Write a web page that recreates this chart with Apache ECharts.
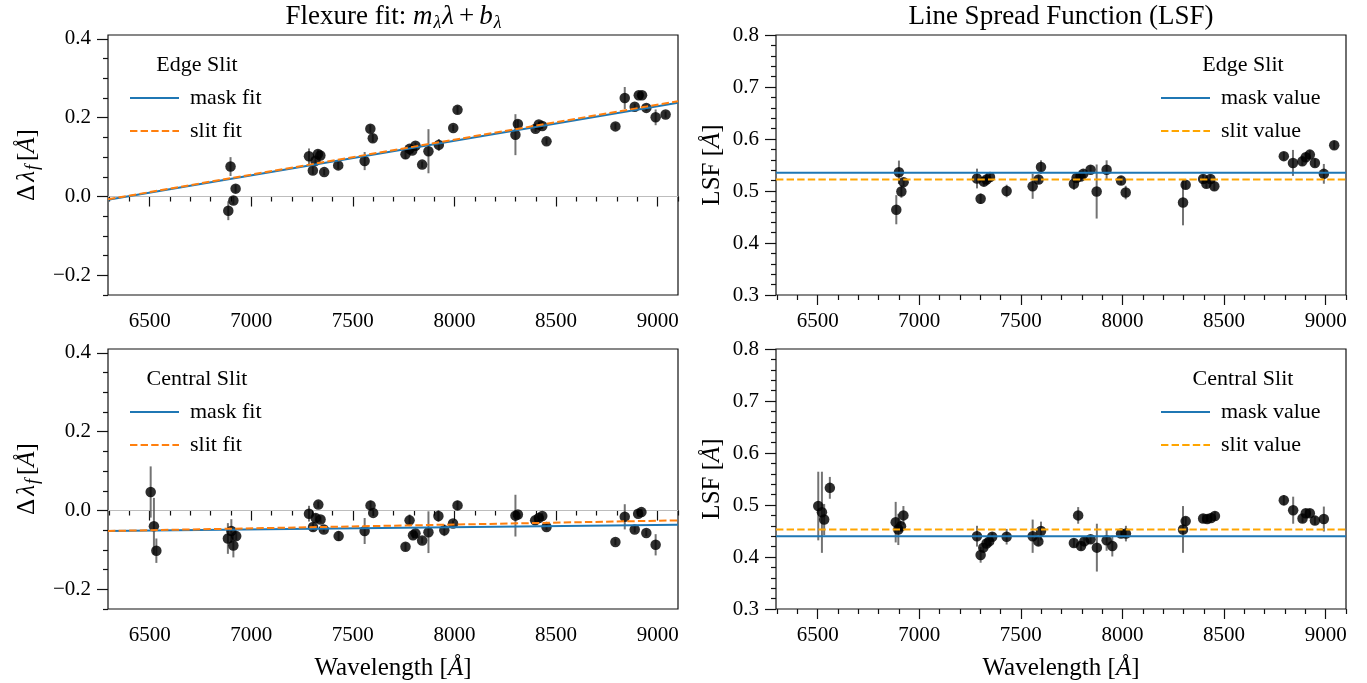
<!DOCTYPE html>
<html>
<head>
<meta charset="utf-8">
<script src="https://cdn.jsdelivr.net/npm/echarts@6/dist/echarts.min.js"></script>
<style>html,body{margin:0;padding:0;background:#fff}#c{width:1367px;height:683px}</style>
</head>
<body>
<div id="c"></div>
<script>
// ---------- axes / ticks ----------
const xRange = [6295, 9100];
const xMajorTicks = [6500, 7000, 7500, 8000, 8500, 9000];
const xMinorTicks = [6300, 6400, 6600, 6700, 6800, 6900, 7100, 7200, 7300, 7400, 7600, 7700, 7800, 7900, 8100, 8200, 8300, 8400, 8600, 8700, 8800, 8900, 9100];
const flexRange = [-0.25, 0.41];
const flexMajorTicks = [-0.2, 0, 0.2, 0.4];
const flexMinorTicks = [-0.25, -0.15, -0.1, -0.05, 0.05, 0.1, 0.15, 0.25, 0.3, 0.35];
const lsfRange = [0.3, 0.8];
const lsfMajorTicks = [0.3, 0.4, 0.5, 0.6, 0.7, 0.8];
const lsfMinorTicks = [0.32, 0.34, 0.36, 0.38, 0.42, 0.44, 0.46, 0.48, 0.52, 0.54, 0.56, 0.58, 0.62, 0.64, 0.66, 0.68, 0.72, 0.74, 0.76, 0.78];

// ---------- Edge slit: flexure ----------
const edgeFlexWave = [6887, 6898, 6912, 6923, 7284, 7303, 7316, 7328, 7340, 7359, 7428, 7558, 7586, 7598, 7759, 7779, 7792, 7808, 7841, 7872, 7923, 7994, 8015, 8300, 8312, 8399, 8415, 8432, 8453, 8792, 8838, 8887, 8907, 8923, 8944, 8990, 9039];
const edgeFlexVal  = [-0.036, 0.076, -0.010, 0.020, 0.102, 0.066, 0.091, 0.108, 0.104, 0.062, 0.079, 0.090, 0.172, 0.148, 0.107, 0.121, 0.117, 0.129, 0.081, 0.115, 0.131, 0.174, 0.220, 0.157, 0.184, 0.172, 0.183, 0.179, 0.140, 0.178, 0.250, 0.228, 0.257, 0.257, 0.225, 0.201, 0.208];
const edgeFlexErr  = [0.024, 0.024, 0.010, 0.010, 0.020, 0.010, 0.010, 0.010, 0.010, 0.008, 0.010, 0.023, 0.010, 0.010, 0.012, 0.008, 0.008, 0.008, 0.008, 0.056, 0.015, 0.008, 0.010, 0.052, 0.010, 0.008, 0.008, 0.008, 0.008, 0.008, 0.028, 0.008, 0.008, 0.008, 0.008, 0.020, 0.008];
const edgeFlexMaskFit = [-0.008, 0.238];
const edgeFlexSlitFit = [-0.007, 0.242];

// ---------- Edge slit: LSF ----------
const edgeLsfWave = [6887, 6900, 6912, 6923, 7284, 7302, 7318, 7331, 7348, 7430, 7558, 7587, 7599, 7761, 7774, 7794, 7807, 7843, 7873, 7922, 7993, 8016, 8298, 8311, 8397, 8413, 8433, 8452, 8794, 8839, 8885, 8902, 8922, 8947, 8991, 9042];
const edgeLsfVal  = [0.464, 0.536, 0.499, 0.517, 0.524, 0.485, 0.518, 0.522, 0.527, 0.500, 0.509, 0.522, 0.546, 0.514, 0.525, 0.528, 0.533, 0.541, 0.499, 0.541, 0.520, 0.497, 0.478, 0.512, 0.523, 0.514, 0.523, 0.509, 0.567, 0.554, 0.557, 0.565, 0.570, 0.554, 0.533, 0.588];
const edgeLsfErr  = [0.028, 0.0225, 0.012, 0.008, 0.019, 0.010, 0.008, 0.008, 0.008, 0.012, 0.024, 0.008, 0.013, 0.012, 0.008, 0.008, 0.008, 0.008, 0.052, 0.018, 0.008, 0.013, 0.044, 0.008, 0.008, 0.008, 0.008, 0.008, 0.008, 0.025, 0.008, 0.008, 0.008, 0.008, 0.019, 0.008];
const edgeLsfMask = [0.535, 0.535];
const edgeLsfSlit = [0.522, 0.522];

// ---------- Central slit: flexure ----------
const centFlexWave = [6505, 6521, 6533, 6885, 6902, 6912, 6926, 7284, 7304, 7317, 7330, 7341, 7357, 7430, 7558, 7587, 7600, 7759, 7779, 7796, 7808, 7841, 7872, 7921, 7950, 7993, 8015, 8300, 8312, 8397, 8415, 8432, 8453, 8792, 8838, 8887, 8904, 8920, 8944, 8990];
const centFlexVal  = [0.047, -0.040, -0.102, -0.071, -0.052, -0.089, -0.065, -0.008, -0.042, -0.019, 0.015, -0.023, -0.048, -0.065, -0.052, 0.013, -0.006, -0.092, -0.025, -0.063, -0.058, -0.076, -0.055, -0.014, -0.050, -0.033, 0.013, -0.013, -0.010, -0.025, -0.019, -0.014, -0.042, -0.080, -0.016, -0.048, -0.008, -0.004, -0.057, -0.087];
const centFlexErr  = [0.065, 0.072, 0.031, 0.039, 0.030, 0.030, 0.010, 0.020, 0.010, 0.010, 0.008, 0.008, 0.008, 0.012, 0.033, 0.012, 0.008, 0.010, 0.015, 0.008, 0.008, 0.008, 0.053, 0.015, 0.015, 0.008, 0.012, 0.053, 0.008, 0.008, 0.008, 0.008, 0.008, 0.008, 0.032, 0.008, 0.008, 0.008, 0.008, 0.027];
const centFlexMaskFit = [-0.052, -0.036];
const centFlexSlitFit = [-0.052, -0.025];

// ---------- Central slit: LSF ----------
const centLsfWave = [6503, 6521, 6532, 6560, 6884, 6897, 6910, 6922, 7284, 7302, 7315, 7331, 7344, 7359, 7430, 7558, 7586, 7599, 7761, 7782, 7796, 7812, 7843, 7874, 7922, 7950, 7993, 8017, 8298, 8311, 8397, 8417, 8436, 8455, 8794, 8840, 8886, 8902, 8922, 8947, 8991];
const centLsfVal  = [0.498, 0.486, 0.472, 0.533, 0.467, 0.453, 0.459, 0.480, 0.440, 0.404, 0.418, 0.426, 0.430, 0.439, 0.439, 0.440, 0.430, 0.450, 0.427, 0.480, 0.421, 0.430, 0.434, 0.418, 0.432, 0.421, 0.445, 0.445, 0.453, 0.469, 0.474, 0.473, 0.475, 0.479, 0.509, 0.490, 0.474, 0.484, 0.484, 0.470, 0.473];
const centLsfErr  = [0.066, 0.078, 0.030, 0.021, 0.039, 0.030, 0.010, 0.018, 0.020, 0.015, 0.008, 0.008, 0.008, 0.008, 0.015, 0.032, 0.008, 0.018, 0.008, 0.016, 0.008, 0.008, 0.008, 0.046, 0.020, 0.020, 0.008, 0.015, 0.045, 0.008, 0.008, 0.008, 0.008, 0.008, 0.010, 0.026, 0.008, 0.008, 0.008, 0.008, 0.024];
const centLsfMask = [0.440, 0.440];
const centLsfSlit = [0.453, 0.453];

const fitX = [6295, 9100];

// ---------- build ----------
const FONT = 'Liberation Serif';
const BLUE = '#1f77b4';

const panels = [
  {wave: edgeFlexWave, val: edgeFlexVal, err: edgeFlexErr, mask: edgeFlexMaskFit, slit: edgeFlexSlitFit, names: ['mask fit', 'slit fit'], slitColor: '#ff7f0e', zero: true, lsf: false},
  {wave: edgeLsfWave, val: edgeLsfVal, err: edgeLsfErr, mask: edgeLsfMask, slit: edgeLsfSlit, names: ['mask value', 'slit value'], slitColor: '#ffa500', zero: false, lsf: true},
  {wave: centFlexWave, val: centFlexVal, err: centFlexErr, mask: centFlexMaskFit, slit: centFlexSlitFit, names: ['mask fit', 'slit fit'], slitColor: '#ff7f0e', zero: true, lsf: false},
  {wave: centLsfWave, val: centLsfVal, err: centLsfErr, mask: centLsfMask, slit: centLsfSlit, names: ['mask value', 'slit value'], slitColor: '#ffa500', zero: false, lsf: true}
];

const gridPos = [
  {left: 108, top: 35}, {left: 776, top: 35}, {left: 108, top: 349}, {left: 776, top: 349}
];
const grids = gridPos.map(g => ({left: g.left, top: g.top, width: 570, height: 260, show: true, borderColor: '#111', borderWidth: 1.2, backgroundColor: 'transparent'}));

const tickStyle = {color: '#111', width: 1.2};
const labelStyle = {fontFamily: FONT, fontSize: 21, color: '#000'};
const richBase = (fs) => ({
  i: {fontFamily: FONT, fontSize: fs, fontStyle: 'italic', color: '#000', lineHeight: 30},
  n: {fontFamily: FONT, fontSize: fs, color: '#000', lineHeight: 30},
  g: {fontFamily: FONT, fontSize: fs, color: '#000', lineHeight: 30, padding: [0, 3, 0, 0]},
  s: {fontFamily: FONT, fontSize: Math.round(fs * 0.7), fontStyle: 'italic', color: '#000', lineHeight: 16, verticalAlign: 'bottom', padding: [0, 4, 0, 1]}
});

const xAxes = [], yAxes = [];
panels.forEach((p, k) => {
  const bottom = k >= 2;
  xAxes.push({
    type: 'value', gridIndex: k, min: xRange[0], max: xRange[1], position: 'bottom',
    axisLine: {show: false}, splitLine: {show: false},
    axisTick: {show: true, length: 10, customValues: xMajorTicks, lineStyle: tickStyle},
    axisLabel: Object.assign({customValues: xMajorTicks, margin: 16, formatter: v => String(Math.round(v))}, labelStyle),
    name: bottom ? '{n|Wavelength [}{i|Å}{n|]}' : '',
    nameLocation: 'middle', nameGap: 44,
    nameTextStyle: {fontFamily: FONT, fontSize: 25, color: '#000', rich: richBase(25)}
  });
  xAxes.push({
    type: 'value', gridIndex: k, min: xRange[0], max: xRange[1], position: 'bottom',
    axisLine: {show: false}, splitLine: {show: false}, axisLabel: {show: false},
    axisTick: {show: true, length: 5, customValues: xMinorTicks, lineStyle: tickStyle}
  });
  const yr = p.lsf ? lsfRange : flexRange;
  const ymaj = p.lsf ? lsfMajorTicks : flexMajorTicks;
  const ymin = p.lsf ? lsfMinorTicks : flexMinorTicks;
  yAxes.push({
    type: 'value', gridIndex: k, min: yr[0], max: yr[1], position: 'left',
    axisLine: {show: false}, splitLine: {show: false},
    axisTick: {show: true, length: 11, customValues: ymaj, lineStyle: tickStyle},
    axisLabel: Object.assign({customValues: ymaj, margin: 17, formatter: v => (v < 0 ? '\u2212' + Math.abs(v).toFixed(1) : v.toFixed(1))}, labelStyle),
    name: p.lsf ? '{n|LSF [}{i|Å}{n|]}' : '{g|Δ}{i|λ}{s|f}{n|[}{i|Å}{n|]}',
    nameLocation: 'middle', nameGap: p.lsf ? 49 : 66,
    nameTextStyle: {fontFamily: FONT, fontSize: 25, color: '#000', rich: richBase(25)}
  });
  yAxes.push({
    type: 'value', gridIndex: k, min: yr[0], max: yr[1], position: 'left',
    axisLine: {show: false}, splitLine: {show: false}, axisLabel: {show: false},
    axisTick: {show: true, length: 5, customValues: ymin, lineStyle: tickStyle}
  });
});

const series = [];
panels.forEach((p, k) => {
  const xi = 2 * k, yi = 2 * k;
  if (p.zero) {
    series.push({type: 'line', xAxisIndex: xi, yAxisIndex: yi, silent: true, symbol: 'none', z: 1,
      data: fitX.map(x => [x, 0]), lineStyle: {color: '#bdbdbd', width: 1.2}});
  }
  series.push({
    type: 'custom', xAxisIndex: xi, yAxisIndex: yi, z: 2, silent: true,
    data: p.wave.map((w, i) => [w, p.val[i], p.err[i]]),
    encode: {x: 0, y: 1},
    renderItem: (params, api) => {
      const x = api.value(0), y = api.value(1), e = api.value(2);
      const a = api.coord([x, y - e]), b = api.coord([x, y + e]);
      return {type: 'line', shape: {x1: a[0], y1: a[1], x2: b[0], y2: b[1]}, style: {stroke: 'rgba(80,80,80,0.8)', lineWidth: 2}};
    }
  });
  series.push({
    type: 'scatter', xAxisIndex: xi, yAxisIndex: yi, z: 3, silent: true,
    symbol: 'circle', symbolSize: 10.5,
    data: p.wave.map((w, i) => [w, p.val[i]]),
    itemStyle: {color: 'rgba(0,0,0,0.82)', opacity: 1}
  });
  series.push({
    name: p.names[0], type: 'line', xAxisIndex: xi, yAxisIndex: yi, z: 4, silent: true, symbol: 'none',
    data: fitX.map((x, i) => [x, p.mask[i]]),
    itemStyle: {color: BLUE}, lineStyle: {color: BLUE, width: 2}
  });
  series.push({
    name: p.names[1], type: 'line', xAxisIndex: xi, yAxisIndex: yi, z: 5, silent: true, symbol: 'none',
    data: fitX.map((x, i) => [x, p.slit[i]]),
    itemStyle: {color: p.slitColor}, lineStyle: {color: p.slitColor, width: 2, type: [7.4, 3.2]}
  });
});

const legendPos = [
  {left: 129, top: 87, names: ['mask fit', 'slit fit']},
  {left: 1160, top: 87, names: ['mask value', 'slit value']},
  {left: 129, top: 401, names: ['mask fit', 'slit fit']},
  {left: 1160, top: 401, names: ['mask value', 'slit value']}
];
const legends = legendPos.map(l => ({
  left: l.left, top: l.top, orient: 'vertical', padding: 0, itemWidth: 49, itemHeight: 14, itemGap: 11,
  selectedMode: false, data: l.names,
  itemStyle: {opacity: 0},
  textStyle: {fontFamily: FONT, fontSize: 22, color: '#000', padding: [0, 0, 0, 6]}
}));

const titleStyle = (fs) => ({fontFamily: FONT, fontSize: fs, fontWeight: 'normal', color: '#000', rich: {
  n: {fontFamily: FONT, fontSize: fs, color: '#000', lineHeight: 30},
  i: {fontFamily: FONT, fontSize: fs, fontStyle: 'italic', color: '#000', lineHeight: 30},
  p: {fontFamily: FONT, fontSize: fs, color: '#000', lineHeight: 30, padding: [0, 5, 0, 5]},
  s: {fontFamily: FONT, fontSize: Math.round(fs * 0.68), fontStyle: 'italic', color: '#000', lineHeight: 16, verticalAlign: 'bottom', padding: [0, 1, 0, 1]}
}});
const titles = [
  {text: '{n|Flexure fit: }{i|m}{s|λ}{i|λ}{p|+}{i|b}{s|λ}', left: 394, top: 17, textAlign: 'center', textVerticalAlign: 'middle', padding: 0, textStyle: titleStyle(27)},
  {text: 'Line Spread Function (LSF)', left: 1061, top: 17, textAlign: 'center', textVerticalAlign: 'middle', padding: 0, textStyle: titleStyle(27)},
  {text: 'Edge Slit', left: 197, top: 65, textAlign: 'center', textVerticalAlign: 'middle', padding: 0, textStyle: titleStyle(22)},
  {text: 'Edge Slit', left: 1243, top: 65, textAlign: 'center', textVerticalAlign: 'middle', padding: 0, textStyle: titleStyle(22)},
  {text: 'Central Slit', left: 197, top: 379, textAlign: 'center', textVerticalAlign: 'middle', padding: 0, textStyle: titleStyle(22)},
  {text: 'Central Slit', left: 1243, top: 379, textAlign: 'center', textVerticalAlign: 'middle', padding: 0, textStyle: titleStyle(22)}
];

const chart = echarts.init(document.getElementById('c'), null, {renderer: 'canvas'});
chart.setOption({
  animation: false,
  backgroundColor: '#fff',
  title: titles,
  legend: legends,
  grid: grids,
  xAxis: xAxes,
  yAxis: yAxes,
  series: series
});
</script>
</body>
</html>
